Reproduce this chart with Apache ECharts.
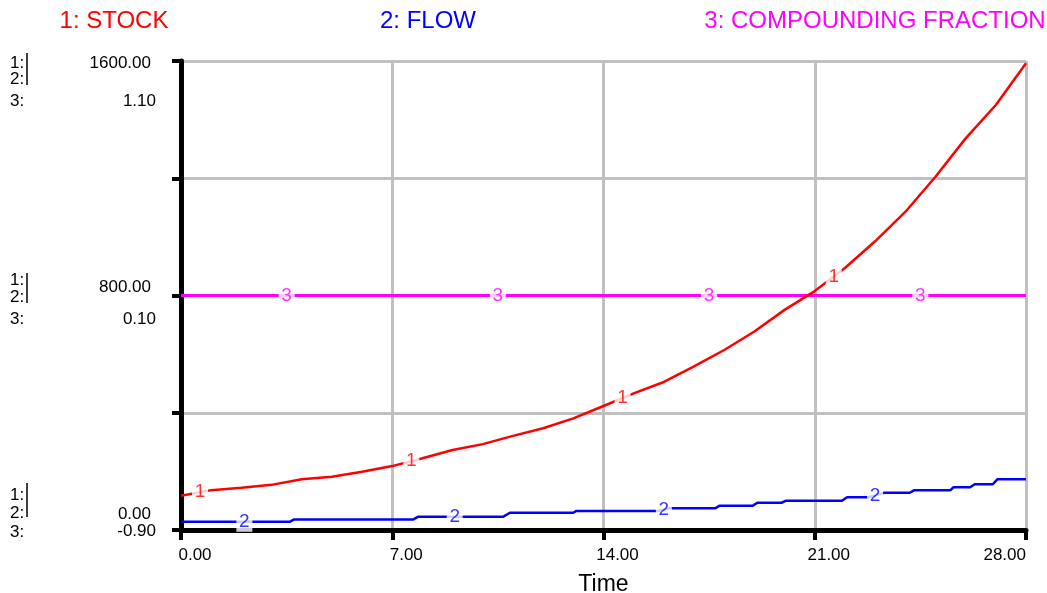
<!DOCTYPE html>
<html>
<head>
<meta charset="utf-8">
<script src="https://cdn.jsdelivr.net/npm/echarts@6/dist/echarts.min.js"></script>
<style>
html,body{margin:0;padding:0;background:#fff;}
#chart{width:1047px;height:593px;}
</style>
</head>
<body>
<div id="chart"></div>
<script>
// ---- data ----
const seriesNames = ['1: STOCK', '2: FLOW', '3: COMPOUNDING FRACTION'];
const xTicks = [0, 7, 14, 21, 28];
const yTicks12 = ['1600.00', '800.00', '0.00'];
const yTicks3 = ['1.10', '0.10', '-0.90'];

const stockTimes = [0,1,2,3,4,5,6,7,8,9,10,11,12,13,14,15,16,17,18,19,20,21,22,23,24,25,26,27,28];
const stockValues = [117,136,144,154,173,182,199,218,245,273,293,321,347,381,423,466,505,558,614,677,751,815,894,985,1085,1205,1336,1450,1592];

// flow: stepped line, [time, value] breakpoints
const flowPoints = [
  [0,28],[3.6,28],[3.75,36],[7.7,36],[7.85,45],[10.67,45],[10.9,59],[13.0,59],[13.1,65],
  [15.8,65],[16.2,74],[17.7,74],[17.85,83],[18.95,83],[19.1,93],[19.9,93],[20.05,100],
  [21.9,100],[22.07,112],[22.8,112],[23.3,127],[24.15,127],[24.3,136],[25.5,136],[25.6,146],
  [26.15,146],[26.3,156],[26.9,156],[27.05,173],[28,173]
];

const fractionTimes = [0, 28];
const fractionValues = [0.1, 0.1];

const label1Times = [0.63, 7.63, 14.63, 21.63];
const label2Times = [2.1, 9.07, 16.0, 23.0];
const label3Times = [3.5, 10.5, 17.5, 24.5];

// ---- helpers ----
function interp(pts, t){
  for (let i=0;i<pts.length-1;i++){
    const a=pts[i], b=pts[i+1];
    if (t>=a[0] && t<=b[0]){ const f=(t-a[0])/(b[0]-a[0]||1); return a[1]+f*(b[1]-a[1]); }
  }
  return pts[pts.length-1][1];
}
const stockPts = stockTimes.map((t,i)=>[t, stockValues[i]]);
const fracPts = fractionTimes.map((t,i)=>[t, fractionValues[i]]);

const RED='#ff0000', BLUE='#0000ff', MAG='#ff00ff';
const FONT='"Liberation Sans", Arial, sans-serif';

function labelSeries(times, pts, text, color, yIdx){
  return {
    type:'scatter', yAxisIndex:yIdx, z:5, silent:true,
    symbol:'rect', symbolSize:[16,20],
    itemStyle:{color:'#fff'},
    label:{show:true, position:'inside', formatter:text, color:color, fontSize:19, fontFamily:FONT},
    data: times.map(t=>[t, interp(pts,t)])
  };
}

const chart = echarts.init(document.getElementById('chart'), null, {renderer:'canvas'});

const gLeft=181, gTop=61, gBottom=530;
const txt = (x,y,text,opt)=>Object.assign({type:'text', x:x, y:y, style:Object.assign({text:text, fill:'#000', font:'17px '+FONT, textVerticalAlign:'middle'}, opt||{})});

const graphics = [];
const rows = [
  {k1:63, k2:79, k3:101, v12y:63, v3y:101, bar:[53,85]},
  {k1:280, k2:297, k3:319, v12y:287, v3y:319, bar:[273,303]},
  {k1:495, k2:513, k3:532, v12y:514, v3y:531, bar:[483,517]}
];
rows.forEach((r,i)=>{
  graphics.push(txt(10,r.k1,'1:'));
  graphics.push(txt(10,r.k2,'2:'));
  graphics.push(txt(10,r.k3,'3:'));
  graphics.push({type:'line', shape:{x1:27,y1:r.bar[0],x2:27,y2:r.bar[1]}, style:{stroke:'#000', lineWidth:1.5}});
  graphics.push(txt(151,r.v12y,yTicks12[i],{textAlign:'right'}));
  graphics.push(txt(156,r.v3y,yTicks3[i],{textAlign:'right'}));
});
graphics.push(txt(114,21,seriesNames[0],{fill:RED, font:'24px '+FONT, textAlign:'center'}));
graphics.push(txt(428,21,seriesNames[1],{fill:BLUE, font:'24px '+FONT, textAlign:'center'}));
graphics.push(txt(875,21,seriesNames[2],{fill:MAG, font:'24px '+FONT, textAlign:'center'}));

const option = {
  backgroundColor:'#fff',
  animation:false,
  grid:{left:gLeft, right:21, top:gTop, bottom:593-gBottom, containLabel:false, outerBoundsMode:'none'},
  xAxis:{
    type:'value', min:0, max:28, interval:7,
    name:'Time', nameLocation:'middle', nameGap:43,
    nameTextStyle:{fontSize:23, color:'#000', fontFamily:FONT},
    axisLine:{show:true, onZero:false, lineStyle:{color:'#000', width:5}},
    axisTick:{show:true, length:10, lineStyle:{color:'#000', width:4}},
    axisLabel:{show:true, color:'#000', fontSize:17, fontFamily:FONT, margin:17, padding:[0,0,0,28],
      alignMaxLabel:'right', formatter:v=>v.toFixed(2)},
    splitLine:{show:true, lineStyle:{color:'#c0c0c0', width:3}}
  },
  yAxis:[
    {
      type:'value', min:0, max:1600, interval:400, position:'left',
      axisLine:{show:true, lineStyle:{color:'#000', width:5}},
      axisTick:{show:true, length:9, lineStyle:{color:'#000', width:4}},
      axisLabel:{show:false},
      splitLine:{show:true, lineStyle:{color:'#c0c0c0', width:3}}
    },
    {
      type:'value', min:-0.9, max:1.1, show:false,
      splitLine:{show:false}
    }
  ],
  series:[
    {name:seriesNames[2], type:'line', yAxisIndex:1, data:fracPts, showSymbol:false, symbol:'none',
      lineStyle:{color:MAG, width:3}, z:3},
    {name:seriesNames[1], type:'line', yAxisIndex:0, data:flowPoints, showSymbol:false, symbol:'none',
      lineStyle:{color:BLUE, width:2.5}, z:3},
    {name:seriesNames[0], type:'line', yAxisIndex:0, data:stockPts, showSymbol:false, symbol:'none',
      lineStyle:{color:RED, width:2.5}, z:4},
    labelSeries(label1Times, stockPts, '1', RED, 0),
    labelSeries(label2Times, flowPoints, '2', BLUE, 0),
    labelSeries(label3Times, fracPts, '3', MAG, 1)
  ],
  graphic:graphics
};
chart.setOption(option);
</script>
</body>
</html>
